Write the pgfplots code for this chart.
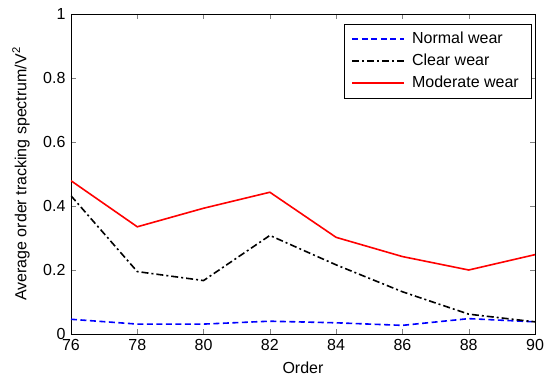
\documentclass[border=0pt]{standalone}
\usepackage{pgfplots}
\pgfplotsset{compat=1.18}
\usepackage{fontspec}
\setmainfont{Liberation Sans}
\begin{document}
\fontsize{16}{19}\selectfont
\begin{tikzpicture}
\begin{axis}[
  name=ax,
  width=464pt, height=320pt, scale only axis,
  xmin=76, xmax=90, ymin=0, ymax=1,
  xtick={76,78,...,90}, ytick={0,0.2,...,1},
  tick align=inside, tick pos=both,
  major tick length=5pt,
  /pgf/number format/assume math mode=true,
  yticklabel style={/pgf/number format/fixed},
  xticklabel style={yshift=0pt},
  xlabel={Order},
  ylabel={Average order tracking spectrum/V\textsuperscript{2}},
  every axis x label/.style={at={(rel axis cs:0.5,0)}, yshift=-34pt, anchor=center},
  every axis y label/.style={at={(rel axis cs:0,0.5)}, xshift=-50pt, rotate=90, anchor=center},
  legend cell align=left,
  legend style={font=\fontsize{16}{19}\selectfont, row sep=4pt, inner xsep=7pt, inner ysep=6pt, nodes={inner xsep=5pt}, at={(1,1)}, anchor=north east, xshift=-4pt, yshift=-10pt},
  every axis plot/.append style={line width=1.6pt},
  legend image code/.code={\draw[line width=1.6pt,#1] (0pt,0pt) -- (52pt,0pt); \path (54pt,0pt);},
]
\addplot[color=blue, dash pattern=on 6pt off 3.5pt] coordinates {(76,0.046) (78,0.031) (80,0.031) (82,0.040) (84,0.035) (86,0.027) (88,0.048) (90,0.038)};
\addlegendentry{Normal wear}
\addplot[color=black, dash pattern=on 7pt off 3pt on 2pt off 3pt] coordinates {(76,0.432) (78,0.195) (80,0.167) (82,0.308) (84,0.216) (86,0.132) (88,0.062) (90,0.038)};
\addlegendentry{Clear wear}
\addplot[color=red] coordinates {(76,0.479) (78,0.335) (80,0.393) (82,0.443) (84,0.302) (86,0.242) (88,0.200) (90,0.248)};
\addlegendentry{Moderate wear}
\end{axis}
\pgfresetboundingbox
\useasboundingbox ([shift={(-71pt,-44pt)}]ax.south west) rectangle ([shift={(9pt,14pt)}]ax.north east);
\end{tikzpicture}
\end{document}
